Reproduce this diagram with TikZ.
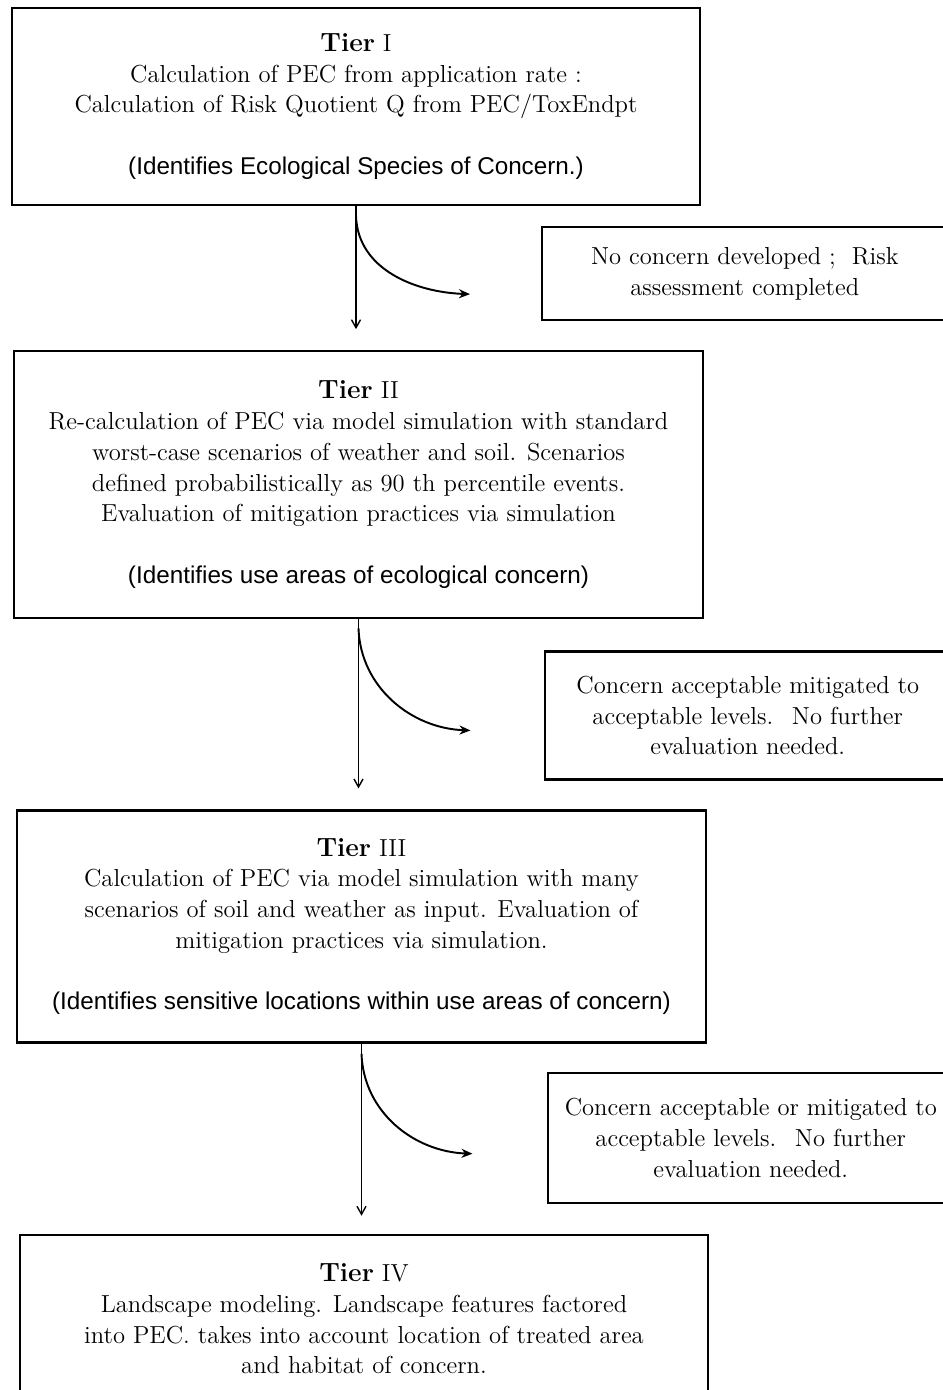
\documentclass[tikz,border=0pt]{standalone}
\usepackage{fontspec}
\newfontfamily\parenfont{Liberation Sans}
\usetikzlibrary{positioning,arrows.meta}
\tikzset{
tierbox/.style={draw, line width=1.3pt, align=center, inner sep=0pt, font=\fontsize{14}{17.5}\selectfont},
notebox/.style={draw, line width=1.3pt, align=center, inner sep=0pt, minimum width=8.1cm, font=\fontsize{14}{17.5}\selectfont},
flowline/.style={line width=0.8pt, -{Straight Barb[length=1.6mm,width=1.8mm]}},
branchline/.style={line width=1.1pt, -{Stealth[length=2.2mm,width=1.8mm]}}
}
\newcommand{\tiertitle}[1]{{\bfseries\fontsize{15}{17.5}\selectfont Tier}\ #1}
\newcommand{\parenline}[1]{{\parenfont\fontsize{13.8}{17.5}\selectfont #1}}
\begin{document}
\begin{tikzpicture}
\useasboundingbox (0,0) rectangle (18.86,-27.8);
\node[tierbox, minimum width=13.76cm, minimum height=3.94cm] (tier1) at (7.12,-2.13) {\tiertitle{I}\\ Calculation of PEC from application rate :\\ Calculation of Risk Quotient Q from PEC/ToxEndpt\\ \\ \parenline{(Identifies Ecological Species of Concern.)}};
\node[tierbox, minimum width=13.78cm, minimum height=5.34cm, below=2.88cm of tier1, xshift=0.05cm] (tier2) {\tiertitle{II}\\ Re-calculation of PEC via model simulation with standard\\ worst-case scenarios of weather and soil. Scenarios\\ defined probabilistically as 90 th percentile events.\\ Evaluation of mitigation practices via simulation\\ \\ \parenline{(Identifies use areas of ecological concern)}};
\node[tierbox, minimum width=13.78cm, minimum height=4.64cm, below=3.8cm of tier2, xshift=0.06cm] (tier3) {\tiertitle{III}\\ Calculation of PEC via model simulation with many\\ scenarios of soil and weather as input. Evaluation of\\ mitigation practices via simulation.\\ \\ \parenline{(Identifies sensitive locations within use areas of concern)}};
\node[tierbox, minimum width=13.76cm, minimum height=3.36cm, below=3.8cm of tier3, xshift=0.05cm] (tier4) {\tiertitle{IV}\\ Landscape modeling. Landscape features factored\\ into PEC. takes into account location of treated area\\ and habitat of concern.};
\node[notebox, minimum height=1.86cm, below=0.4cm of tier1.south east, anchor=north west, xshift=-3.2cm] (note1) {No concern developed ; \ Risk\\ assessment completed};
\node[notebox, minimum height=2.56cm, below=0.62cm of tier2.south east, anchor=north west, xshift=-3.2cm] (note2) {Concern acceptable mitigated to\\ acceptable levels. \ No further\\ evaluation needed.};
\node[notebox, minimum height=2.6cm, below=0.56cm of tier3.south east, anchor=north west, xshift=-3.2cm] (note3) {Concern acceptable or mitigated to\\ acceptable levels. \ No further\\ evaluation needed.};
\coordinate[below=0.2cm of tier1.south] (fork1);
\coordinate[below right=1.76cm and 2.28cm of tier1.south] (exit1);
\coordinate[below=2.46cm of tier1.south] (stop1);
\coordinate[below=0.18cm of tier2.south] (fork2);
\coordinate[below right=2.22cm and 2.24cm of tier2.south] (exit2);
\coordinate[below=3.38cm of tier2.south] (stop2);
\coordinate[below=0.2cm of tier3.south] (fork3);
\coordinate[below right=2.2cm and 2.22cm of tier3.south] (exit3);
\coordinate[below=3.44cm of tier3.south] (stop3);
\draw[flowline] (tier1.south) -- (stop1);
\draw[flowline] (tier2.south) -- (stop2);
\draw[flowline] (tier3.south) -- (stop3);
\draw[branchline] (fork1) to[out=-88,in=178] (exit1);
\draw[branchline] (fork2) to[out=-88,in=178] (exit2);
\draw[branchline] (fork3) to[out=-88,in=178] (exit3);
\end{tikzpicture}
\end{document}
